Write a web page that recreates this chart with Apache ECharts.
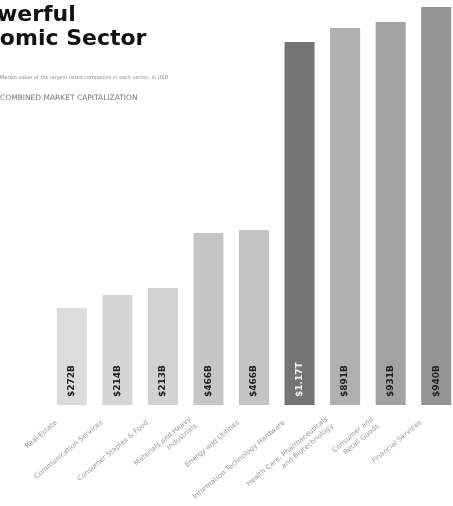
<!DOCTYPE html>
<html>
<head>
<meta charset="utf-8">
<script src="https://cdn.jsdelivr.net/npm/echarts@6/dist/echarts.min.js"></script>
<style>
  html, body { margin: 0; padding: 0; background: #fff; }
  #chart { width: 453px; height: 506px; }
</style>
</head>
<body>
<div id="chart"></div>
<script>
// sectors, left to right
var sectors = [
  'Real Estate',
  'Communication Services',
  'Consumer Staples & Food',
  'Materials and Heavy\nIndustrials',
  'Energy and Utilities',
  'Information Technology Hardware',
  'Health Care, Pharmaceuticals\nand Biotechnology',
  'Consumer and\nRetail Goods',
  'Financial Services'
];
// bar heights
var values = [97, 110, 117, 172, 175, 363, 377, 383, 398];
// text printed inside each bar
var barLabels = ['$272B', '$214B', '$213B', '$466B', '$466B', '$1.17T', '$891B', '$931B', '$940B'];
var barColors = ['#dcdcdc', '#d6d6d6', '#d2d2d2', '#c6c6c6', '#c4c4c4', '#747474', '#b0b0b0', '#a2a2a2', '#949494'];

var chart = echarts.init(document.getElementById('chart'));

var option = {
  backgroundColor: '#fff',
  animation: false,
  title: [{
    text: 'A Powerful\nEconomic Sector',
    left: -59,
    top: 3,
    padding: 0,
    textStyle: {
      fontFamily: 'DejaVu Sans',
      fontSize: 22,
      fontWeight: 'bold',
      color: '#111',
      lineHeight: 24
    }
  }, {
    text: 'Market value of the largest listed companies in each sector, in USD',
    left: 0,
    top: 75,
    padding: 0,
    textStyle: { fontFamily: 'DejaVu Sans', fontSize: 5, color: '#888', fontWeight: 'normal' }
  }, {
    text: 'COMBINED MARKET CAPITALIZATION',
    left: 0,
    top: 94,
    padding: 0,
    textStyle: { fontFamily: 'DejaVu Sans', fontSize: 7.5, color: '#777', fontWeight: 'normal' }
  }],
  grid: {
    left: 49,
    top: 5,
    width: 410,
    height: 400,
    containLabel: false,
    outerBoundsMode: 'none'
  },
  xAxis: {
    type: 'category',
    data: sectors,
    axisLine: { show: false },
    axisTick: { show: false },
    axisLabel: {
      interval: 0,
      rotate: 40,
      margin: 4,
      padding: [0, 20, 0, 0],
      fontSize: 7,
      lineHeight: 9,
      color: '#999',
      fontFamily: 'DejaVu Sans'
    }
  },
  yAxis: {
    type: 'value',
    min: 0,
    max: 400,
    show: false,
    splitLine: { show: false }
  },
  series: [{
    type: 'bar',
    barWidth: 30,
    data: values.map(function (v, i) {
      return {
        value: v,
        itemStyle: { color: barColors[i] },
        label: { color: i === 5 ? '#f2f2f2' : '#222' }
      };
    }),
    label: {
      show: true,
      position: 'insideBottom',
      rotate: 90,
      align: 'left',
      verticalAlign: 'middle',
      distance: 8,
      fontSize: 9,
      fontWeight: 'bold',
      fontFamily: 'DejaVu Sans',
      formatter: function (p) { return barLabels[p.dataIndex]; }
    }
  }]
};

chart.setOption(option);
window.addEventListener('resize', function () {
  chart.resize();
});
</script>
</body>
</html>
